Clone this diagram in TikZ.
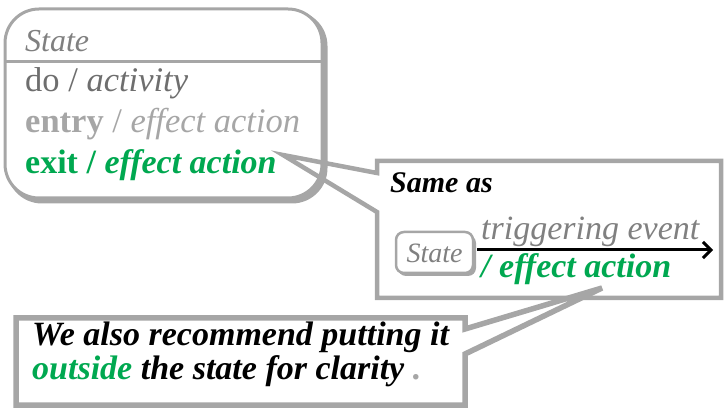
\documentclass[tikz,border=0pt]{standalone}
\usepackage{fontspec}
\setmainfont{Liberation Serif}
\usetikzlibrary{arrows.meta}
\definecolor{outline}{RGB}{166,166,166}
\definecolor{darkgraytxt}{RGB}{110,110,110}
\definecolor{midgraytxt}{RGB}{128,128,128}
\definecolor{lightgraytxt}{RGB}{166,166,166}
\definecolor{actgreen}{RGB}{0,168,80}
\tikzset{
  txt/.style={anchor=base west, inner sep=0pt, font=\fontsize{34.5}{34.5}\selectfont},
  note/.style={anchor=base west, inner sep=0pt, font=\fontsize{34}{34}\selectfont\bfseries\itshape},
  callout/.style={draw=outline, line width=4.5pt, line join=miter},
  statebox/.style={draw=outline, line width=3pt, fill=white},
  shadowbox/.style={fill=outline, draw=outline, line width=3pt}
}
\begin{document}
\begin{tikzpicture}[x=1pt,y=-1pt]
\useasboundingbox (0,0) rectangle (724,409);

% state with internal activities
\fill[shadowbox, rounded corners=34pt] (8,12) rectangle (326,202);
\draw[statebox, rounded corners=34pt] (5,9) rectangle (322,198);
\coordinate (sepL) at (5,62);
\coordinate (sepR) at (322,62);
\draw[outline, line width=3pt] (sepL) -- (sepR);
\node[txt, text=midgraytxt, font=\fontsize{32}{32}\selectfont\itshape] (sname) at (25,52) {State};
\node[txt, text=darkgraytxt] (doline) at (25,92) {do / \textit{activity}};
\node[txt, text=lightgraytxt] (entryline) at (25,133) {\textbf{entry} / \textit{effect action}};
\node[txt, text=actgreen, font=\fontsize{34}{34}\selectfont] (exitline) at (25,174) {\textbf{exit / \textit{effect action}}};

% first callout
\coordinate (c1tip) at (283,155);
\draw[callout] (377,161) -- (721,161) -- (721,298) -- (377,298) -- (377,212)
  -- (c1tip) -- (377,173) -- cycle;
\node[note, font=\fontsize{30}{30}\selectfont\bfseries\itshape] (same) at (390,193) {Same as};

% small state with transition
\fill[outline, rounded corners=8pt] (398,235) rectangle (476,276);
\draw[statebox, line width=2.5pt, rounded corners=8pt] (396,232) rectangle (473,273);
\node[txt, text=midgraytxt, font=\fontsize{28}{28}\selectfont\itshape, anchor=base] (small) at (434.5,262) {State};
\coordinate (arrstart) at (477,250);
\coordinate (arrend) at (713,250);
\draw[line width=3pt, -{Straight Barb[length=8pt,width=16pt,line width=3pt]}] (arrstart) -- (arrend);
\node[txt, text=midgraytxt, font=\fontsize{34}{34}\selectfont\itshape] (trig) at (481,240) {triggering event};
\node[txt, text=actgreen, font=\fontsize{34}{34}\selectfont\bfseries\itshape] (eff) at (481,278) {/ effect action};

% second callout
\coordinate (c2tip) at (602,288);
\draw[callout, line width=5.5pt] (16,318) -- (465,318) -- (465,329) -- (c2tip)
  -- (465,354) -- (465,405) -- (16,405) -- cycle;
\node[note] (rec1) at (32,345) {We also recommend putting it};
\node[note] (rec2) at (32,379) {\textcolor{actgreen}{outside} the state for clarity \textcolor{lightgraytxt}{.}};
\end{tikzpicture}
\end{document}
